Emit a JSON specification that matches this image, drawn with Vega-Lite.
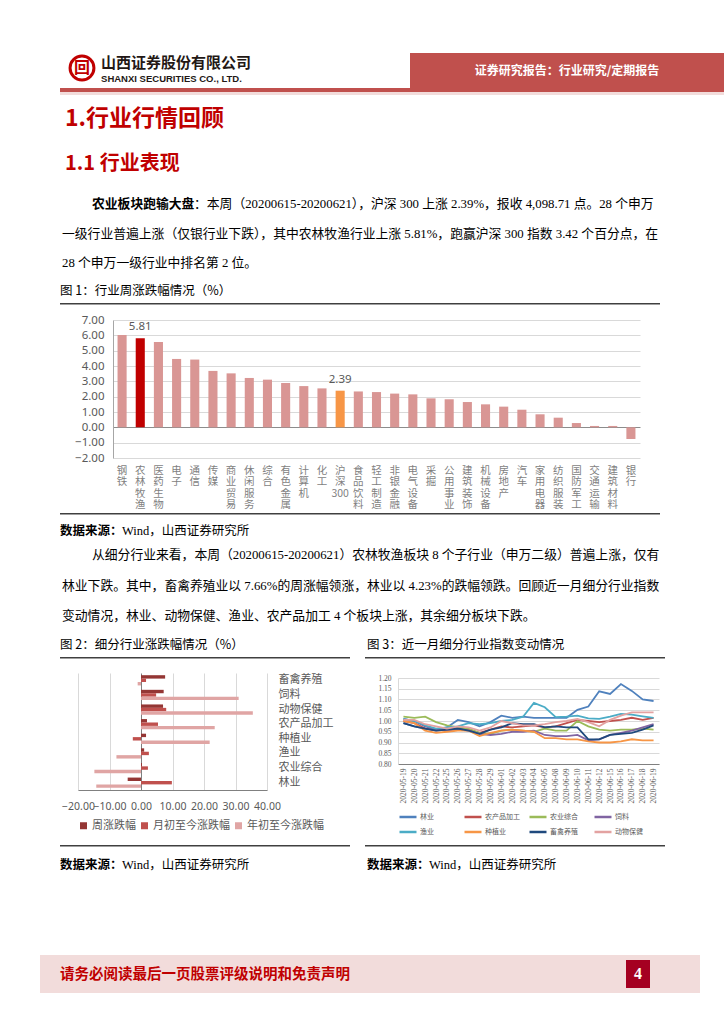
{
"$schema":"https://vega.github.io/schema/vega-lite/v6.json",
"padding":0,
"autosize":{"type":"pad"},
"background":"white",
"spacing":0,"bounds":"flush",
"resolve":{"scale":{"color":"independent"},"legend":{"color":"independent"}},
"config":{"view":{"stroke":null},"title":{"offset":0,"anchor":"start","frame":"bounds","color":"#000000","fontWeight":"normal"},"concat":{"spacing":0}},
"vconcat":[
{"width":1,"height":53,"data":{"values":[{}]},"mark":{"type":"text","text":""}},
{"hconcat":[
 {"width":67,"height":30,"data":{"values":[{}]},"mark":{"type":"text","text":""}},
 {"width":30,"height":30,"data":{"values":[{"g":"回"}]},
  "title":{"text":"山西证券股份有限公司","subtitle":"SHANXI SECURITIES CO., LTD.","font":"Noto Sans CJK SC","fontSize":15,"fontWeight":"bold","color":"#231815","subtitleFont":"Liberation Sans","subtitleFontSize":9.5,"subtitleFontWeight":"bold","subtitleColor":"#231815","subtitlePadding":3,"dx":37,"dy":37},
  "layer":[
   {"mark":{"type":"point","shape":"circle","size":570,"filled":false,"color":"#c00000","strokeWidth":3,"opacity":1}},
   {"mark":{"type":"text","font":"Noto Sans CJK SC","fontSize":16,"fontWeight":"bold","color":"#c00000"},"encoding":{"text":{"field":"g"}}}
  ]},
 {"width":313,"height":1,"data":{"values":[{}]},"mark":{"type":"text","text":""}},
 {"width":314,"height":35,"view":{"fill":"#c0504d"},"data":{"values":[{"t":"证券研究报告：行业研究/定期报告"}]},"mark":{"type":"text","font":"Noto Sans CJK SC","fontSize":12,"fontWeight":"bold","color":"#ffffff"},"encoding":{"text":{"field":"t"}}}
],"spacing":0,"bounds":"flush"},
{"width":1,"height":35,"data":{"values":[{}]},"mark":{"type":"text","text":""}},
{"hconcat":[
 {"width":60,"height":4,"data":{"values":[{}]},"mark":{"type":"text","text":""}},
 {"width":664,"height":4,"view":{"fill":"#c0504d"},"data":{"values":[{}]},"mark":{"type":"text","text":""}}
],"spacing":0,"bounds":"flush"},
{"width":1,"height":4,"data":{"values":[{}]},"mark":{"type":"text","text":""}},
{"hconcat":[
 {"width":60,"height":3,"data":{"values":[{}]},"mark":{"type":"text","text":""}},
 {"width":664,"height":3,"view":{"fill":"#f2dcdb"},"data":{"values":[{}]},"mark":{"type":"text","text":""}}
],"spacing":0,"bounds":"flush"},
{"width":1,"height":3,"data":{"values":[{}]},"mark":{"type":"text","text":""}},
{"width":1,"height":45,"data":{"values":[{}]},"mark":{"type":"text","text":""},"title":{"text":"1.行业行情回顾","font":"Noto Sans CJK SC","fontSize":23,"fontWeight":"bold","color":"#c00000","dx":65,"dy":39.6}},
{"width":1,"height":42,"data":{"values":[{}]},"mark":{"type":"text","text":""},"title":{"text":"1.1 行业表现","font":"Noto Sans CJK SC","fontSize":20,"fontWeight":"bold","color":"#c00000","dx":65,"dy":37.8}},
{"hconcat":[
 {"width":194,"height":36,"data":{"values":[{}]},"mark":{"type":"text","text":""},"title":{"text":"农业板块跑输大盘","font":"Noto Sans CJK SC","fontSize":12.8,"fontWeight":"bold","dx":92,"dy":32.5}},
 {"width":1,"height":36,"data":{"values":[{}]},"mark":{"type":"text","text":""},"title":{"text":"：本周（20200615-20200621），沪深 300 上涨 2.39%，报收 4,098.71 点。28 个申万","font":"Liberation Serif, Noto Sans CJK SC","fontSize":12.8,"dx":0,"dy":32.5}}
],"spacing":0,"bounds":"flush"},
{"width":1,"height":36,"data":{"values":[{}]},"mark":{"type":"text","text":""}},
{"width":1,"height":59,"data":{"values":[{}]},"mark":{"type":"text","text":""},"title":{"text":["一级行业普遍上涨（仅银行业下跌），其中农林牧渔行业上涨 5.81%，跑赢沪深 300 指数 3.42 个百分点，在","28 个申万一级行业中排名第 2 位。"],"lineHeight":29,"font":"Liberation Serif, Noto Sans CJK SC","fontSize":12.8,"dx":62,"dy":55.5}},
{"width":1,"height":26,"data":{"values":[{}]},"mark":{"type":"text","text":""},"title":{"text":"图 1：行业周涨跌幅情况（%）","font":"Noto Sans CJK SC","fontSize":12.5,"dx":60,"dy":24.4}},
{"hconcat":[
 {"width":60,"height":1.5,"data":{"values":[{}]},"mark":{"type":"text","text":""}},
 {"width":600,"height":1.5,"view":{"fill":"#404040"},"data":{"values":[{}]},"mark":{"type":"text","text":""}}
],"spacing":0,"bounds":"flush"},
{"width":1,"height":17,"data":{"values":[{}]},"mark":{"type":"text","text":""}},
{"hconcat":[
 {"width":113,"height":138,"data":{"values":[{}]},"mark":{"type":"text","text":""}},
 {"width":527,"height":138,
  "data":{"values":[
   {"industry":"钢铁","chg":6.02,"grp":"other"},
   {"industry":"农林牧渔","chg":5.81,"grp":"agri"},
   {"industry":"医药生物","chg":5.56,"grp":"other"},
   {"industry":"电子","chg":4.46,"grp":"other"},
   {"industry":"通信","chg":4.42,"grp":"other"},
   {"industry":"传媒","chg":3.68,"grp":"other"},
   {"industry":"商业贸易","chg":3.52,"grp":"other"},
   {"industry":"休闲服务","chg":3.22,"grp":"other"},
   {"industry":"综合","chg":3.11,"grp":"other"},
   {"industry":"有色金属","chg":2.89,"grp":"other"},
   {"industry":"计算机","chg":2.69,"grp":"other"},
   {"industry":"化工","chg":2.54,"grp":"other"},
   {"industry":"沪深300","chg":2.39,"grp":"hs300"},
   {"industry":"食品饮料","chg":2.34,"grp":"other"},
   {"industry":"轻工制造","chg":2.30,"grp":"other"},
   {"industry":"非银金融","chg":2.20,"grp":"other"},
   {"industry":"电气设备","chg":2.15,"grp":"other"},
   {"industry":"采掘","chg":1.89,"grp":"other"},
   {"industry":"公用事业","chg":1.83,"grp":"other"},
   {"industry":"建筑装饰","chg":1.65,"grp":"other"},
   {"industry":"机械设备","chg":1.50,"grp":"other"},
   {"industry":"房地产","chg":1.35,"grp":"other"},
   {"industry":"汽车","chg":1.15,"grp":"other"},
   {"industry":"家用电器","chg":0.85,"grp":"other"},
   {"industry":"纺织服装","chg":0.63,"grp":"other"},
   {"industry":"国防军工","chg":0.28,"grp":"other"},
   {"industry":"交通运输","chg":0.09,"grp":"other"},
   {"industry":"建筑材料","chg":0.09,"grp":"other"},
   {"industry":"银行","chg":-0.76,"grp":"other"}
  ]},
  "encoding":{
   "x":{"field":"industry","type":"nominal","sort":null,"scale":{"paddingInner":0.5,"paddingOuter":0.25},
    "axis":{"title":null,"labelAngle":0,"labelExpr":"datum.label == '沪深300' ? ['沪','深','300'] : split(datum.label, '')","labelBaseline":"top","labelAlign":"center","labelPadding":7,"labelFontSize":10.5,"labelLineHeight":11.5,"labelColor":"#7f7f7f","labelFont":"Noto Sans CJK SC","ticks":false,"domain":false,"labelOverlap":false}},
   "y":{"field":"chg","type":"quantitative","scale":{"domain":[-2,7],"nice":false},"axis":{"title":null,"values":[-2,-1,0,1,2,3,4,5,6,7],"format":".2f","gridColor":{"condition":{"test":"datum.value === 0","value":"#8c8c8c"},"value":"#d9d9d9"},"domainColor":"#a6a6a6","ticks":false,"labelFontSize":11.5,"labelColor":"#595959","labelPadding":9,"labelFont":"Noto Sans","labelOverlap":false}}
  },
  "layer":[
   {"mark":{"type":"bar"},"encoding":{
     "color":{"field":"grp","type":"nominal","scale":{"domain":["other","agri","hs300"],"range":["#d99694","#c00000","#f79646"]},"legend":null}}},
   {"transform":[{"filter":"datum.grp != 'other'"}],"mark":{"type":"text","dy":-11,"fontSize":11.5,"color":"#595959","font":"Noto Sans"},"encoding":{"text":{"field":"chg","type":"quantitative","format":".2f"}}}
  ]}
],"spacing":0,"bounds":"flush"},
{"width":1,"height":193,"data":{"values":[{}]},"mark":{"type":"text","text":""}},
{"hconcat":[
 {"width":60,"height":1.5,"data":{"values":[{}]},"mark":{"type":"text","text":""}},
 {"width":600,"height":1.5,"view":{"fill":"#404040"},"data":{"values":[{}]},"mark":{"type":"text","text":""}}
],"spacing":0,"bounds":"flush"},
{"width":1,"height":1.5,"data":{"values":[{}]},"mark":{"type":"text","text":""}},
{"hconcat":[
 {"width":122,"height":26.5,"data":{"values":[{}]},"mark":{"type":"text","text":""},"title":{"text":"数据来源：","font":"Noto Sans CJK SC","fontSize":12.5,"fontWeight":"bold","dx":60,"dy":26.9}},
 {"width":1,"height":26.5,"data":{"values":[{}]},"mark":{"type":"text","text":""},"title":{"text":"Wind，山西证券研究所","font":"Liberation Serif, Noto Sans CJK SC","fontSize":12.5,"dx":0,"dy":26.9}}
],"spacing":0,"bounds":"flush"},
{"width":1,"height":26.5,"data":{"values":[{}]},"mark":{"type":"text","text":""}},
{"width":1,"height":30.5,"data":{"values":[{}]},"mark":{"type":"text","text":""},"title":{"text":"从细分行业来看，本周（20200615-20200621）农林牧渔板块 8 个子行业（申万二级）普遍上涨，仅有","font":"Liberation Serif, Noto Sans CJK SC","fontSize":12.8,"dx":92,"dy":23.5}},
{"width":1,"height":57.5,"data":{"values":[{}]},"mark":{"type":"text","text":""},"title":{"text":["林业下跌。其中，畜禽养殖业以 7.66%的周涨幅领涨，林业以 4.23%的跌幅领跌。回顾近一月细分行业指数","变动情况，林业、动物保健、渔业、农产品加工 4 个板块上涨，其余细分板块下跌。"],"lineHeight":30,"font":"Liberation Serif, Noto Sans CJK SC","fontSize":12.8,"dx":62,"dy":54}},
{"hconcat":[
 {"width":367,"height":26,"data":{"values":[{}]},"mark":{"type":"text","text":""},"title":{"text":"图 2：细分行业涨跌幅情况（%）","font":"Noto Sans CJK SC","fontSize":12.5,"dx":60,"dy":24.4}},
 {"width":1,"height":26,"data":{"values":[{}]},"mark":{"type":"text","text":""},"title":{"text":"图 3：近一月细分行业指数变动情况","font":"Noto Sans CJK SC","fontSize":12.5,"dx":0,"dy":24.4}}
],"spacing":0,"bounds":"flush"},
{"width":1,"height":26,"data":{"values":[{}]},"mark":{"type":"text","text":""}},
{"hconcat":[
 {"width":60,"height":1.5,"data":{"values":[{}]},"mark":{"type":"text","text":""}},
 {"width":290,"height":1.5,"view":{"fill":"#404040"},"data":{"values":[{}]},"mark":{"type":"text","text":""}},
 {"width":15,"height":1.5,"data":{"values":[{}]},"mark":{"type":"text","text":""}},
 {"width":300,"height":1.5,"view":{"fill":"#404040"},"data":{"values":[{}]},"mark":{"type":"text","text":""}}
],"spacing":0,"bounds":"flush"},
{"width":1,"height":16,"data":{"values":[{}]},"mark":{"type":"text","text":""}},
{"hconcat":[
 {"width":78,"height":117,"data":{"values":[{}]},"mark":{"type":"text","text":""}},
 {"width":189,"height":117,
  "data":{"values":[
   {"cat":"畜禽养殖","s":"周涨跌幅","v":7.66},{"cat":"畜禽养殖","s":"月初至今涨跌幅","v":1.6},{"cat":"畜禽养殖","s":"年初至今涨跌幅","v":-1.06},
   {"cat":"饲料","s":"周涨跌幅","v":7.2},{"cat":"饲料","s":"月初至今涨跌幅","v":4.8},{"cat":"饲料","s":"年初至今涨跌幅","v":31.0},
   {"cat":"动物保健","s":"周涨跌幅","v":7.0},{"cat":"动物保健","s":"月初至今涨跌幅","v":8.0},{"cat":"动物保健","s":"年初至今涨跌幅","v":35.5},
   {"cat":"农产品加工","s":"周涨跌幅","v":1.9},{"cat":"农产品加工","s":"月初至今涨跌幅","v":5.4},{"cat":"农产品加工","s":"年初至今涨跌幅","v":23.4},
   {"cat":"种植业","s":"周涨跌幅","v":1.6},{"cat":"种植业","s":"月初至今涨跌幅","v":-2.6},{"cat":"种植业","s":"年初至今涨跌幅","v":21.8},
   {"cat":"渔业","s":"周涨跌幅","v":1.0},{"cat":"渔业","s":"月初至今涨跌幅","v":2.5},{"cat":"渔业","s":"年初至今涨跌幅","v":-7.8},
   {"cat":"农业综合","s":"周涨跌幅","v":0.3},{"cat":"农业综合","s":"月初至今涨跌幅","v":2.2},{"cat":"农业综合","s":"年初至今涨跌幅","v":-14.8},
   {"cat":"林业","s":"周涨跌幅","v":-4.23},{"cat":"林业","s":"月初至今涨跌幅","v":9.8},{"cat":"林业","s":"年初至今涨跌幅","v":-14.2}
  ]},
  "mark":{"type":"bar"},
  "encoding":{
     "y":{"field":"cat","type":"nominal","sort":["畜禽养殖","饲料","动物保健","农产品加工","种植业","渔业","农业综合","林业"],"scale":{"paddingInner":0.3,"paddingOuter":0.15},"axis":{"title":null,"orient":"right","domain":false,"ticks":false,"labelPadding":11,"labelFontSize":11,"labelColor":"#595959","labelFont":"Noto Sans CJK SC"}},
     "yOffset":{"field":"s","type":"nominal","sort":["周涨跌幅","月初至今涨跌幅","年初至今涨跌幅"]},
     "x":{"field":"v","type":"quantitative","scale":{"domain":[-20,40],"nice":false},"axis":{"title":null,"values":[-20,-10,0,10,20,30,40],"format":".2f","gridColor":{"condition":{"test":"datum.value === 0","value":"#7f7f7f"},"value":"#d9d9d9"},"domainColor":"#808080","ticks":false,"labelFontSize":10.5,"labelColor":"#595959","labelPadding":11,"labelFont":"Noto Sans","labelOverlap":false,"labelFlush":false}},
     "color":{"field":"s","type":"nominal","sort":["周涨跌幅","月初至今涨跌幅","年初至今涨跌幅"],"scale":{"domain":["周涨跌幅","月初至今涨跌幅","年初至今涨跌幅"],"range":["#943634","#c0504d","#e0a5a4"]},"legend":{"orient":"bottom","direction":"horizontal","title":null,"symbolType":"square","symbolSize":49,"labelFontSize":11,"labelColor":"#595959","labelFont":"Noto Sans CJK SC","columnPadding":3,"labelOffset":3,"offset":8}}
  }},
 {"width":131,"height":1,"data":{"values":[{}]},"mark":{"type":"text","text":""}},
 {"vconcat":[
  {"width":261,"height":5,"data":{"values":[{}]},"mark":{"type":"text","text":""}},
  {"width":261,"height":86,
   "data":{"values":[
    {"d":"2020-05-19","林业":0.99,"农产品加工":1.0,"农业综合":1.02,"饲料":1.01,"渔业":1.01,"种植业":1.0,"畜禽养殖":0.99,"动物保健":1.005},
    {"d":"2020-05-20","林业":0.975,"农产品加工":0.99,"农业综合":1.015,"饲料":1.0,"渔业":1.0,"种植业":0.99,"畜禽养殖":0.975,"动物保健":1.005},
    {"d":"2020-05-21","林业":0.965,"农产品加工":0.965,"农业综合":1.02,"饲料":0.975,"渔业":0.98,"种植业":0.955,"畜禽养殖":0.965,"动物保健":0.985},
    {"d":"2020-05-22","林业":0.96,"农产品加工":0.955,"农业综合":0.995,"饲料":0.96,"渔业":0.965,"种植业":0.945,"畜禽养殖":0.955,"动物保健":0.975},
    {"d":"2020-05-25","林业":0.97,"农产品加工":0.96,"农业综合":0.98,"饲料":0.955,"渔业":0.97,"种植业":0.95,"畜禽养殖":0.96,"动物保健":0.965},
    {"d":"2020-05-26","林业":1.005,"农产品加工":0.965,"农业综合":0.97,"饲料":0.96,"渔业":0.975,"种植业":0.955,"畜禽养殖":0.965,"动物保健":0.975},
    {"d":"2020-05-27","林业":0.995,"农产品加工":0.96,"农业综合":0.965,"饲料":0.955,"渔业":0.99,"种植业":0.955,"畜禽养殖":0.955,"动物保健":0.97},
    {"d":"2020-05-28","林业":0.975,"农产品加工":0.945,"农业综合":0.945,"饲料":0.94,"渔业":0.985,"种植业":0.93,"畜禽养殖":0.94,"动物保健":0.955},
    {"d":"2020-05-29","林业":0.995,"农产品加工":0.96,"农业综合":0.94,"饲料":0.935,"渔业":0.99,"种植业":0.945,"畜禽养殖":0.96,"动物保健":0.97},
    {"d":"2020-06-01","林业":1.025,"农产品加工":0.975,"农业综合":0.955,"饲料":0.94,"渔业":1.0,"种植业":0.955,"畜禽养殖":0.97,"动物保健":1.0},
    {"d":"2020-06-02","林业":1.015,"农产品加工":0.97,"农业综合":0.96,"饲料":0.95,"渔业":1.005,"种植业":0.96,"畜禽养殖":0.99,"动物保健":0.99},
    {"d":"2020-06-03","林业":1.02,"农产品加工":0.975,"农业综合":0.955,"饲料":0.95,"渔业":1.02,"种植业":0.955,"畜禽养殖":0.985,"动物保健":0.98},
    {"d":"2020-06-04","林业":1.015,"农产品加工":0.98,"农业综合":0.95,"饲料":0.955,"渔业":1.084,"种植业":0.95,"畜禽养殖":0.985,"动物保健":0.98},
    {"d":"2020-06-05","林业":1.015,"农产品加工":0.97,"农业综合":0.965,"饲料":0.935,"渔业":1.064,"种植业":0.92,"畜禽养殖":0.97,"动物保健":0.985},
    {"d":"2020-06-08","林业":1.015,"农产品加工":0.975,"农业综合":0.955,"饲料":0.93,"渔业":1.018,"种植业":0.92,"畜禽养殖":0.975,"动物保健":0.995},
    {"d":"2020-06-09","林业":1.015,"农产品加工":0.99,"农业综合":0.955,"饲料":0.93,"渔业":1.02,"种植业":0.915,"畜禽养殖":0.97,"动物保健":1.0},
    {"d":"2020-06-10","林业":1.052,"农产品加工":1.005,"农业综合":1.0,"饲料":0.935,"渔业":1.025,"种植业":0.915,"畜禽养殖":0.97,"动物保健":1.01},
    {"d":"2020-06-11","林业":1.067,"农产品加工":1.0,"农业综合":0.975,"饲料":0.91,"渔业":1.012,"种植业":0.905,"畜禽养殖":0.915,"动物保健":0.995},
    {"d":"2020-06-12","林业":1.138,"农产品加工":0.995,"农业综合":0.96,"饲料":0.915,"渔业":1.01,"种植业":0.9,"畜禽养殖":0.915,"动物保健":0.975},
    {"d":"2020-06-15","林业":1.126,"农产品加工":1.0,"农业综合":0.955,"饲料":0.935,"渔业":1.02,"种植业":0.9,"畜禽养殖":0.935,"动物保健":1.005},
    {"d":"2020-06-16","林业":1.172,"农产品加工":1.005,"农业综合":0.96,"饲料":0.945,"渔业":1.033,"种植业":0.905,"畜禽养殖":0.94,"动物保健":1.025},
    {"d":"2020-06-17","林业":1.14,"农产品加工":1.015,"农业综合":0.96,"饲料":0.955,"渔业":1.03,"种植业":0.915,"畜禽养殖":0.945,"动物保健":1.04},
    {"d":"2020-06-18","林业":1.1,"农产品加工":1.005,"农业综合":0.965,"饲料":0.97,"渔业":1.022,"种植业":0.91,"畜禽养殖":0.96,"动物保健":1.04},
    {"d":"2020-06-19","林业":1.093,"农产品加工":1.015,"农业综合":0.96,"饲料":0.985,"渔业":1.015,"种植业":0.91,"畜禽养殖":0.98,"动物保健":1.04}
   ]},
   "transform":[{"fold":["林业","农产品加工","农业综合","饲料","渔业","种植业","畜禽养殖","动物保健"],"as":["s","v"]}],
   "mark":{"type":"line","strokeWidth":1.8},
   "encoding":{
    "x":{"field":"d","type":"ordinal","scale":{"type":"point","padding":0.5},"axis":{"title":null,"labelAngle":-90,"labelFontSize":7.5,"labelColor":"#595959","labelFont":"Liberation Serif","ticks":false,"domainColor":"#808080","labelPadding":4}},
    "y":{"field":"v","type":"quantitative","scale":{"domain":[0.8,1.2],"nice":false,"zero":false},"axis":{"title":null,"values":[0.8,0.85,0.9,0.95,1.0,1.05,1.1,1.15,1.2],"format":".2f","gridColor":"#d9d9d9","domainColor":"#d9d9d9","ticks":false,"labelFontSize":7.5,"labelColor":"#595959","labelFont":"Liberation Serif","labelPadding":7,"labelOverlap":false}},
    "color":{"field":"s","type":"nominal","sort":["林业","农产品加工","农业综合","饲料","渔业","种植业","畜禽养殖","动物保健"],"scale":{"domain":["林业","农产品加工","农业综合","饲料","渔业","种植业","畜禽养殖","动物保健"],"range":["#4f81bd","#c0504d","#9bbb59","#8064a2","#4bacc6","#f79646","#1f497d","#e3a2a1"]},
     "legend":{"orient":"bottom","columns":4,"title":null,"symbolType":"stroke","symbolStrokeWidth":2.5,"symbolSize":289,"labelFontSize":7,"labelColor":"#595959","labelFont":"Noto Sans CJK SC","columnPadding":4,"rowPadding":-4,"gridAlign":"all","labelOffset":2,"offset":4}}
   }}
 ],"spacing":0,"bounds":"flush","resolve":{"scale":{"color":"independent"},"legend":{"color":"independent"}}}
],"spacing":0,"bounds":"flush","resolve":{"scale":{"color":"independent"},"legend":{"color":"independent"}}},
{"width":1,"height":172,"data":{"values":[{}]},"mark":{"type":"text","text":""}},
{"hconcat":[
 {"width":60,"height":1.5,"data":{"values":[{}]},"mark":{"type":"text","text":""}},
 {"width":290,"height":1.5,"view":{"fill":"#404040"},"data":{"values":[{}]},"mark":{"type":"text","text":""}},
 {"width":15,"height":1.5,"data":{"values":[{}]},"mark":{"type":"text","text":""}},
 {"width":300,"height":1.5,"view":{"fill":"#404040"},"data":{"values":[{}]},"mark":{"type":"text","text":""}}
],"spacing":0,"bounds":"flush"},
{"width":1,"height":1.5,"data":{"values":[{}]},"mark":{"type":"text","text":""}},
{"hconcat":[
 {"width":122,"height":107.5,"data":{"values":[{}]},"mark":{"type":"text","text":""},"title":{"text":"数据来源：","font":"Noto Sans CJK SC","fontSize":12.5,"fontWeight":"bold","dx":60,"dy":28.9}},
 {"width":245,"height":107.5,"data":{"values":[{}]},"mark":{"type":"text","text":""},"title":{"text":"Wind，山西证券研究所","font":"Liberation Serif, Noto Sans CJK SC","fontSize":12.5,"dx":0,"dy":28.9}},
 {"width":62,"height":107.5,"data":{"values":[{}]},"mark":{"type":"text","text":""},"title":{"text":"数据来源：","font":"Noto Sans CJK SC","fontSize":12.5,"fontWeight":"bold","dx":0,"dy":28.9}},
 {"width":1,"height":107.5,"data":{"values":[{}]},"mark":{"type":"text","text":""},"title":{"text":"Wind，山西证券研究所","font":"Liberation Serif, Noto Sans CJK SC","fontSize":12.5,"dx":0,"dy":28.9}}
],"spacing":0,"bounds":"flush"},
{"width":1,"height":107.5,"data":{"values":[{}]},"mark":{"type":"text","text":""}},
{"hconcat":[
 {"width":40,"height":38,"data":{"values":[{}]},"mark":{"type":"text","text":""}},
 {"width":586,"height":38,"view":{"fill":"#f2dcdb"},"data":{"values":[{}]},"mark":{"type":"text","text":""},"title":{"text":"请务必阅读最后一页股票评级说明和免责声明","font":"Noto Sans CJK SC","fontSize":14.5,"fontWeight":"bold","color":"#c00000","dx":20,"dy":31.6}},
 {"vconcat":[
  {"width":24,"height":5,"view":{"fill":"#f2dcdb"},"data":{"values":[{}]},"mark":{"type":"text","text":""}},
  {"width":24,"height":28,"view":{"fill":"#a50021"},"data":{"values":[{"p":"4"}]},"mark":{"type":"text","font":"Liberation Serif","fontSize":16,"fontWeight":"bold","color":"#ffffff"},"encoding":{"text":{"field":"p"}}},
  {"width":24,"height":5,"view":{"fill":"#f2dcdb"},"data":{"values":[{}]},"mark":{"type":"text","text":""}}
 ],"spacing":0,"bounds":"flush"},
 {"width":24,"height":1,"data":{"values":[{}]},"mark":{"type":"text","text":""}},
 {"width":50,"height":38,"view":{"fill":"#f2dcdb"},"data":{"values":[{}]},"mark":{"type":"text","text":""}}
],"spacing":0,"bounds":"flush"}
]
}
